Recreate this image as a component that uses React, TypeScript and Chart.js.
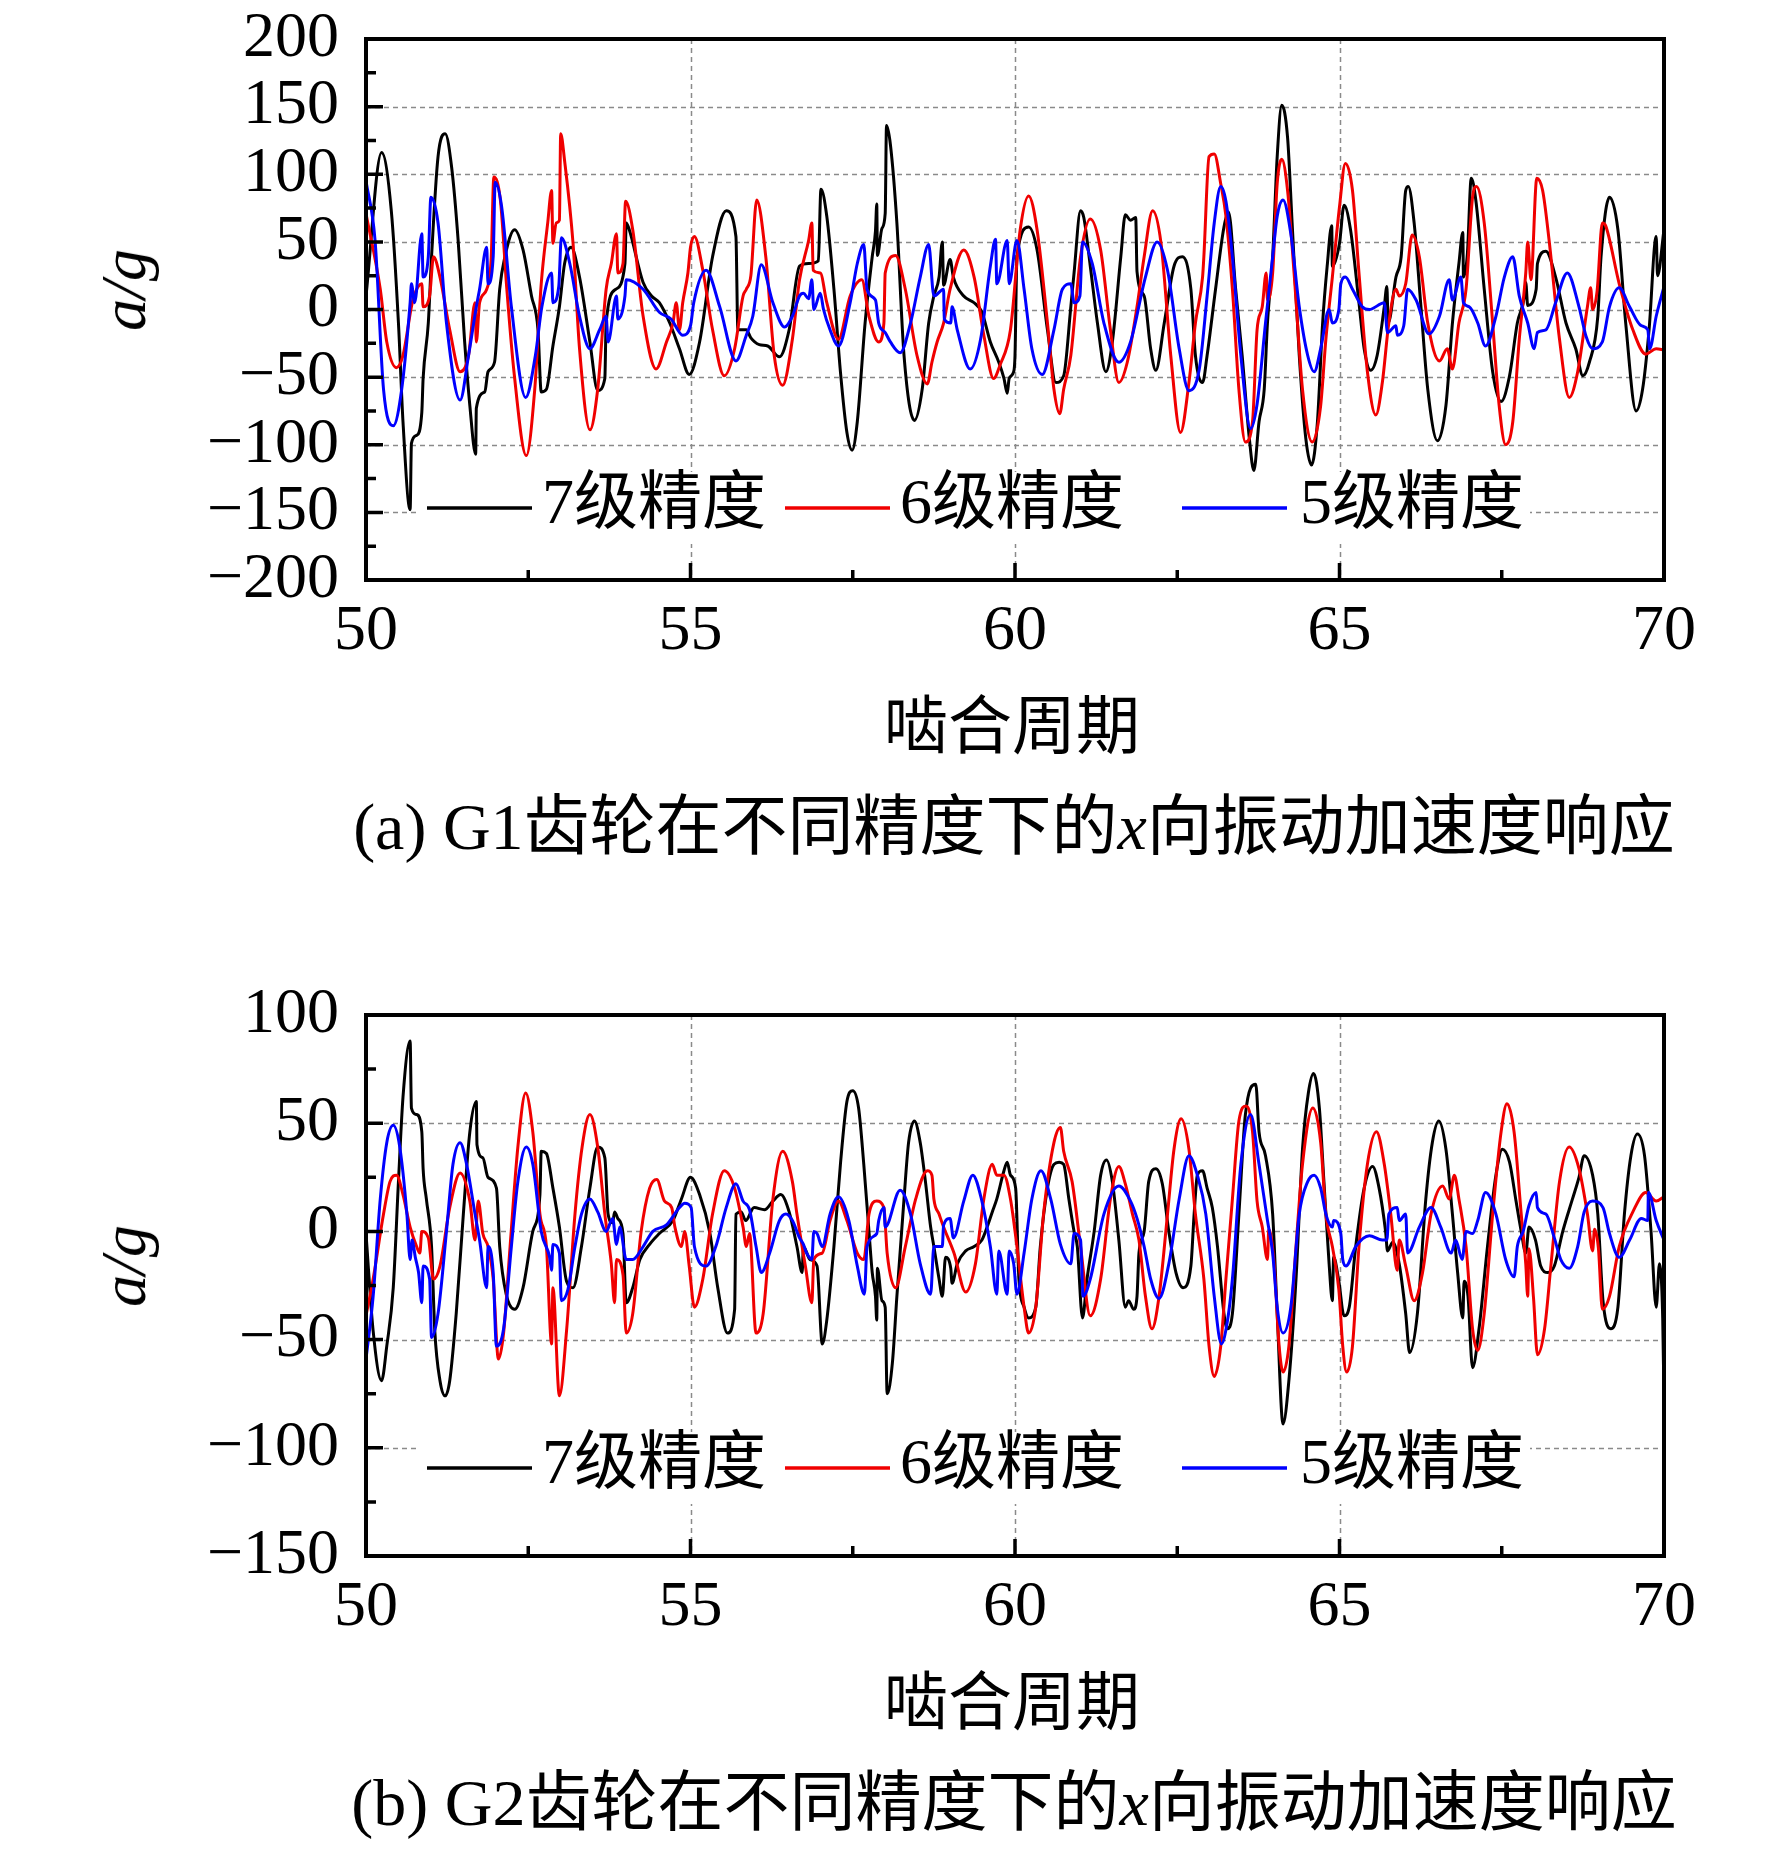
import React, { useEffect, useRef } from 'react';
import { Chart, registerables } from 'chart.js';

Chart.register(...registerables);

type Pt = [number, number];

// ---------------- data ----------------
const seriesNames = ['7级精度', '6级精度', '5级精度'];
const seriesColors = ['#000000', '#f00000', '#0000ff'];

const xTickValues = [50, 55, 60, 65, 70];
const yTickValuesG1 = [-200, -150, -100, -50, 0, 50, 100, 150, 200];
const yTickValuesG2 = [-150, -100, -50, 0, 50, 100];

const g1Black: Pt[] = [
  [50.0, 10], [50.24, 116], [50.39, 73], [50.5, -10], [50.57, -83], [50.68, -148], [50.7, -99], [50.78, -93],
  [50.86, -76], [50.88, -51], [50.96, -10], [51.01, 39], [51.11, 113], [51.22, 130], [51.32, 105], [51.42, 51],
  [51.52, -24], [51.6, -71], [51.69, -107], [51.7, -73], [51.83, -61], [51.88, -46], [51.98, -39], [52.06, 15],
  [52.14, 39], [52.29, 59], [52.42, 44], [52.55, 10], [52.65, -15], [52.7, -61], [52.78, -59], [52.88, -27],
  [52.98, 2], [53.06, 34], [53.16, 46], [53.29, 24], [53.45, -24], [53.57, -60], [53.68, -51], [53.7, -10],
  [53.85, 15], [53.99, 34], [54.01, 64], [54.05, 60], [54.27, 20], [54.4, 10], [54.52, 5], [54.68, -10],
  [54.83, -29], [54.98, -48], [55.14, -24], [55.34, 39], [55.55, 73], [55.7, 54], [55.73, -15], [55.86, -15],
  [55.93, -21], [56.06, -26], [56.19, -27], [56.37, -35], [56.52, -15], [56.68, 32], [56.82, 34], [56.97, 36],
  [57.01, 89], [57.1, 69], [57.21, 15], [57.31, -46], [57.41, -91], [57.49, -104], [57.57, -83], [57.69, -10],
  [57.8, 39], [57.85, 58], [57.87, 78], [57.88, 40], [57.95, 60], [58.0, 71], [58.02, 136], [58.08, 122],
  [58.18, 64], [58.29, -34], [58.45, -82], [58.57, -59], [58.67, -10], [58.75, 10], [58.83, 24], [58.88, 50],
  [58.9, 18], [59.0, 37], [59.05, 24], [59.21, 10], [59.37, 5], [59.49, -2], [59.62, -24], [59.75, -39],
  [59.83, -51], [59.88, -62], [59.91, -51], [59.98, -46], [60.0, -34], [60.03, 39], [60.21, 61], [60.34, 44],
  [60.5, -15], [60.63, -54], [60.75, -49], [60.86, 2], [60.91, 27], [61.01, 73], [61.06, 68], [61.16, 32],
  [61.27, -10], [61.4, -46], [61.5, -24], [61.63, 39], [61.7, 70], [61.78, 66], [61.86, 68], [61.88, 28],
  [61.99, 10], [62.09, -29], [62.17, -45], [62.3, -10], [62.45, 32], [62.58, 39], [62.71, 15], [62.78, -34],
  [62.89, -54], [62.96, -34], [63.09, 15], [63.22, 61], [63.29, 72], [63.4, 15], [63.5, -34], [63.61, -95],
  [63.68, -119], [63.76, -83], [63.84, -59], [63.89, -10], [63.97, 39], [64.04, 113], [64.11, 151], [64.2, 127],
  [64.27, 64], [64.38, -34], [64.48, -95], [64.57, -115], [64.66, -83], [64.74, -10], [64.81, 32], [64.88, 62],
  [64.89, 32], [65.0, 49], [65.07, 77], [65.17, 59], [65.3, 5], [65.38, -29], [65.48, -45], [65.58, -34],
  [65.69, 2], [65.73, 17], [65.75, -10], [65.87, 24], [65.95, 39], [66.02, 88], [66.06, 91], [66.15, 64],
  [66.25, 5], [66.36, -59], [66.51, -97], [66.64, -71], [66.74, -10], [66.84, 34], [66.9, 57], [66.91, 24],
  [66.97, 41], [67.03, 97], [67.1, 81], [67.23, 15], [67.36, -46], [67.49, -68], [67.62, -49], [67.74, -10],
  [67.85, 10], [67.87, 20], [67.9, 3], [68.03, 15], [68.05, 34], [68.18, 43], [68.33, 24], [68.49, -10],
  [68.64, -29], [68.75, -49], [68.85, -39], [68.98, -5], [69.03, 39], [69.16, 83], [69.29, 59], [69.41, -10],
  [69.57, -75], [69.67, -59], [69.77, -15], [69.88, 54], [69.9, 25], [70.0, 59],
];

const g1Red: Pt[] = [
  [50.0, 71], [50.22, 15], [50.32, -24], [50.47, -43], [50.57, -34], [50.7, 2], [50.74, 10], [50.86, 19],
  [50.88, 2], [50.98, 10], [51.04, 39], [51.14, 24], [51.29, -15], [51.45, -46], [51.58, -34], [51.68, 5],
  [51.7, -24], [51.75, 5], [51.86, 15], [51.93, 39], [51.97, 98], [52.07, 81], [52.17, 15], [52.28, -46],
  [52.47, -108], [52.6, -59], [52.7, 19], [52.8, 64], [52.86, 88], [52.88, 49], [52.93, 64], [52.98, 66],
  [53.0, 130], [53.06, 110], [53.19, 49], [53.29, -29], [53.45, -89], [53.57, -59], [53.7, 15], [53.78, 34],
  [53.86, 56], [53.88, 27], [53.96, 34], [54.0, 80], [54.11, 59], [54.27, -5], [54.47, -44], [54.63, -24],
  [54.73, -10], [54.78, 5], [54.83, -15], [54.88, 5], [54.96, 27], [55.0, 46], [55.06, 54], [55.19, 29],
  [55.34, -15], [55.52, -49], [55.68, -29], [55.81, 10], [55.86, 15], [55.93, 25], [56.02, 81], [56.16, 39],
  [56.29, -34], [56.42, -56], [56.57, -22], [56.68, 22], [56.82, 51], [56.87, 64], [56.89, 29], [57.0, 27],
  [57.1, 5], [57.28, -22], [57.46, 10], [57.64, 22], [57.75, -5], [57.9, -24], [57.98, -10], [58.0, 27],
  [58.16, 40], [58.31, 15], [58.49, -34], [58.65, -55], [58.72, -39], [58.8, -24], [58.9, -10], [59.0, 15],
  [59.21, 44], [59.37, 24], [59.52, -19], [59.67, -51], [59.77, -41], [59.93, -15], [60.08, 59], [60.21, 84],
  [60.34, 59], [60.5, -10], [60.6, -59], [60.69, -77], [60.75, -59], [60.86, -34], [61.01, 39], [61.16, 67],
  [61.32, 44], [61.47, -15], [61.6, -54], [61.73, -39], [61.88, 2], [61.99, 39], [62.12, 73], [62.25, 49],
  [62.4, -34], [62.55, -91], [62.68, -54], [62.78, -10], [62.89, 24], [62.91, 39], [62.99, 113], [63.07, 115],
  [63.17, 93], [63.25, 69], [63.35, 15], [63.45, -59], [63.55, -98], [63.66, -83], [63.73, -15], [63.81, 2],
  [63.87, 27], [63.89, 7], [63.97, 27], [64.04, 93], [64.11, 111], [64.2, 88], [64.3, 27], [64.43, -59],
  [64.58, -98], [64.71, -71], [64.79, -22], [64.89, 24], [65.0, 76], [65.09, 108], [65.2, 88], [65.3, 27],
  [65.43, -46], [65.56, -78], [65.66, -54], [65.76, -10], [65.87, 15], [65.92, 10], [66.02, 19], [66.12, 55],
  [66.23, 39], [66.36, -10], [66.54, -38], [66.66, -29], [66.74, -44], [66.84, -10], [66.95, 15], [67.05, 83],
  [67.11, 91], [67.23, 64], [67.36, -10], [67.46, -71], [67.56, -100], [67.67, -83], [67.77, -22], [67.87, 27],
  [67.9, 50], [67.95, 22], [68.04, 97], [68.13, 88], [68.23, 51], [68.39, -22], [68.54, -65], [68.67, -46],
  [68.82, 2], [68.87, 16], [68.9, 0], [68.97, 14], [69.05, 64], [69.1, 62], [69.31, 19], [69.52, -15],
  [69.72, -33], [69.88, -29], [70.0, -30],
];

const g1Blue: Pt[] = [
  [50.0, 95], [50.14, 51], [50.27, -59], [50.42, -86], [50.55, -59], [50.68, 5], [50.7, 19], [50.75, 5],
  [50.86, 56], [50.88, 24], [50.96, 39], [51.0, 83], [51.11, 64], [51.24, -10], [51.45, -67], [51.58, -34],
  [51.7, 2], [51.75, 15], [51.86, 46], [51.88, 19], [51.96, 39], [51.99, 94], [52.09, 76], [52.24, 2],
  [52.46, -65], [52.61, -34], [52.71, 2], [52.86, 27], [52.88, 5], [52.97, 17], [53.01, 53], [53.14, 34],
  [53.29, -5], [53.45, -29], [53.6, -15], [53.7, -5], [53.73, -24], [53.86, 10], [53.88, -7], [53.99, 10],
  [54.01, 22], [54.27, 15], [54.52, -2], [54.7, -7], [54.88, -19], [55.0, -12], [55.05, 5], [55.24, 29],
  [55.45, 2], [55.7, -38], [55.86, -19], [55.96, -5], [56.09, 33], [56.27, 5], [56.45, -13], [56.57, -5],
  [56.68, 10], [56.74, 12], [56.82, 8], [56.87, 22], [56.9, 0], [57.0, 12], [57.05, 0], [57.15, -15],
  [57.28, -27], [57.46, 5], [57.57, 34], [57.67, 48], [57.72, 15], [57.85, 7], [57.9, -10], [58.0, -17],
  [58.08, -24], [58.23, -32], [58.39, -10], [58.54, 24], [58.67, 48], [58.75, 10], [58.9, 15], [58.91, -7],
  [59.01, -10], [59.03, 2], [59.11, -15], [59.31, -44], [59.47, -22], [59.62, 32], [59.7, 52], [59.72, 19],
  [59.88, 51], [59.91, 19], [60.03, 51], [60.14, 15], [60.26, -29], [60.42, -48], [60.6, -15], [60.73, 15],
  [60.86, 19], [60.91, 5], [61.0, 10], [61.04, 50], [61.19, 34], [61.37, -10], [61.6, -39], [61.78, -24],
  [62.01, 24], [62.19, 50], [62.35, 29], [62.53, -29], [62.68, -60], [62.84, -44], [62.96, 10], [63.07, 64],
  [63.17, 91], [63.25, 80], [63.35, 39], [63.48, -34], [63.63, -88], [63.73, -70], [63.86, -10], [63.97, 39],
  [64.04, 69], [64.13, 81], [64.25, 56], [64.38, 2], [64.51, -34], [64.61, -46], [64.71, -29], [64.84, 0],
  [64.89, -10], [64.99, 0], [65.02, 19], [65.09, 24], [65.2, 15], [65.35, 2], [65.46, 0], [65.69, 5],
  [65.74, -17], [65.87, -12], [65.89, -19], [65.99, -12], [66.05, 15], [66.18, 7], [66.38, -18], [66.54, -5],
  [66.69, 22], [66.74, 7], [66.87, 24], [66.91, 5], [67.0, 2], [67.13, -10], [67.25, -27], [67.41, -5],
  [67.54, 24], [67.67, 39], [67.77, 10], [67.9, -10], [68.0, -29], [68.05, -17], [68.18, -15], [68.33, 5],
  [68.51, 27], [68.69, 2], [68.8, -20], [68.9, -29], [69.05, -24], [69.16, 2], [69.31, 16], [69.47, 2],
  [69.65, -12], [69.75, -15], [69.78, -29], [69.88, -5], [70.0, 17],
];

const g2Black: Pt[] = [
  [50.0, -1], [50.11, -46], [50.24, -69], [50.32, -53], [50.42, -26], [50.5, 23], [50.57, 62], [50.68, 88],
  [50.7, 57], [50.78, 54], [50.86, 46], [50.88, 29], [50.93, 15], [51.01, -7], [51.06, -46], [51.14, -69],
  [51.22, -76], [51.29, -69], [51.39, -38], [51.5, 8], [51.6, 46], [51.7, 60], [51.71, 40], [51.8, 34],
  [51.88, 25], [52.01, 20], [52.06, -7], [52.16, -29], [52.29, -36], [52.42, -26], [52.57, 0], [52.68, 17],
  [52.7, 37], [52.78, 36], [52.88, 20], [52.98, 2], [53.09, -23], [53.19, -26], [53.32, -7], [53.45, 20],
  [53.57, 39], [53.68, 34], [53.73, 8], [53.8, 4], [53.83, 9], [53.88, 6], [53.96, -1], [54.01, -33],
  [54.11, -26], [54.22, -13], [54.37, -6], [54.52, -1], [54.73, 5], [54.86, 15], [55.0, 25], [55.14, 17],
  [55.3, -1], [55.42, -26], [55.57, -47], [55.68, -36], [55.7, 8], [55.78, 9], [55.85, 5], [55.98, 11],
  [56.14, 10], [56.27, 14], [56.39, 17], [56.52, 9], [56.64, -7], [56.72, -19], [56.74, -7], [56.84, -13],
  [56.95, -16], [57.03, -52], [57.1, -41], [57.21, -7], [57.31, 31], [57.41, 60], [57.5, 65], [57.59, 57],
  [57.67, 31], [57.75, 0], [57.8, -19], [57.85, -30], [57.87, -41], [57.88, -17], [57.95, -32], [58.0, -35],
  [58.03, -75], [58.11, -61], [58.18, -30], [58.29, 15], [58.36, 41], [58.45, 51], [58.54, 41], [58.62, 23],
  [58.7, 2], [58.75, -7], [58.83, -22], [58.88, -30], [58.93, -12], [59.01, -17], [59.03, -24], [59.11, -15],
  [59.24, -9], [59.37, -7], [59.49, -4], [59.57, 2], [59.65, 9], [59.72, 15], [59.83, 28], [59.88, 32],
  [59.93, 26], [60.01, 20], [60.06, -22], [60.14, -35], [60.21, -40], [60.32, -35], [60.39, -7], [60.5, 20],
  [60.6, 31], [60.68, 32], [60.75, 31], [60.83, 15], [60.91, 0], [60.96, -7], [61.04, -40], [61.11, -22],
  [61.22, 0], [61.32, 26], [61.41, 33], [61.5, 23], [61.6, -4], [61.7, -35], [61.75, -32], [61.83, -36],
  [61.88, -30], [61.91, -10], [61.99, 0], [62.06, 23], [62.17, 29], [62.27, 22], [62.37, 0], [62.48, -19],
  [62.59, -26], [62.71, -16], [62.76, 8], [62.81, 26], [62.89, 28], [62.96, 20], [63.04, 11], [63.12, -7],
  [63.22, -38], [63.27, -45], [63.35, -38], [63.45, 8], [63.55, 54], [63.71, 68], [63.76, 46], [63.86, 35],
  [63.97, 8], [64.04, -38], [64.13, -89], [64.22, -69], [64.33, -22], [64.43, 38], [64.52, 64], [64.6, 73],
  [64.69, 57], [64.76, 23], [64.84, -15], [64.89, -32], [64.91, -12], [64.99, -23], [65.07, -39], [65.15, -35],
  [65.25, -7], [65.38, 20], [65.51, 30], [65.61, 20], [65.71, 0], [65.74, -9], [65.82, -5], [65.92, -15],
  [66.02, -38], [66.08, -56], [66.2, -38], [66.33, 15], [66.43, 41], [66.53, 51], [66.64, 38], [66.74, 8],
  [66.82, -19], [66.9, -40], [66.92, -23], [66.98, -30], [67.05, -63], [67.15, -45], [67.28, -7], [67.41, 26],
  [67.51, 38], [67.62, 32], [67.72, 14], [67.8, 0], [67.87, -10], [67.92, 2], [68.02, -4], [68.1, -16],
  [68.21, -19], [68.31, -16], [68.44, 0], [68.59, 15], [68.69, 25], [68.77, 35], [68.9, 26], [68.98, 8],
  [69.06, -32], [69.18, -45], [69.29, -35], [69.39, 8], [69.49, 35], [69.59, 45], [69.7, 35], [69.8, 0],
  [69.88, -35], [69.93, -15], [69.98, -40], [70.0, -78],
];

const g2Red: Pt[] = [
  [50.0, -39], [50.11, -22], [50.27, 8], [50.37, 23], [50.47, 26], [50.57, 17], [50.68, 2], [50.78, -7],
  [50.83, -10], [50.86, 0], [50.96, -3], [51.04, -22], [51.14, -16], [51.29, 11], [51.45, 27], [51.6, 14],
  [51.68, -4], [51.73, 14], [51.8, -1], [51.88, -7], [51.96, -22], [52.04, -59], [52.12, -47], [52.22, -7],
  [52.34, 39], [52.46, 64], [52.57, 46], [52.68, 8], [52.78, -7], [52.86, -52], [52.88, -26], [52.98, -76],
  [53.09, -46], [53.22, 8], [53.33, 39], [53.45, 54], [53.57, 39], [53.68, 8], [53.78, -15], [53.83, -33],
  [53.86, -13], [53.96, -20], [54.01, -47], [54.11, -38], [54.24, 0], [54.37, 20], [54.48, 24], [54.6, 14],
  [54.71, 11], [54.76, 2], [54.86, -7], [54.91, 0], [54.98, -16], [55.06, -35], [55.19, -22], [55.34, 8],
  [55.52, 28], [55.68, 20], [55.81, 2], [55.86, -7], [55.91, -1], [56.01, -47], [56.12, -38], [56.27, 15],
  [56.42, 37], [56.57, 23], [56.64, 8], [56.77, -16], [56.87, -33], [56.9, -13], [57.03, -10], [57.15, 5],
  [57.28, 14], [57.41, 5], [57.57, -10], [57.67, -13], [57.75, 8], [57.87, 14], [57.98, 11], [58.03, -10],
  [58.16, -26], [58.31, -7], [58.47, 15], [58.65, 28], [58.72, 26], [58.75, 15], [58.83, 8], [58.9, 2],
  [59.06, -10], [59.24, -28], [59.39, -15], [59.52, 15], [59.65, 31], [59.72, 26], [59.83, 26], [59.93, 15],
  [60.03, -7], [60.14, -35], [60.21, -47], [60.32, -35], [60.44, 8], [60.6, 41], [60.7, 48], [60.75, 37],
  [60.88, 23], [61.01, -7], [61.16, -39], [61.32, -22], [61.47, 15], [61.6, 30], [61.7, 22], [61.81, 8],
  [61.91, -4], [62.01, -30], [62.11, -45], [62.22, -30], [62.35, 8], [62.45, 38], [62.56, 52], [62.68, 38],
  [62.78, 8], [62.91, -22], [62.99, -53], [63.07, -67], [63.17, -53], [63.25, -22], [63.35, 15], [63.45, 51],
  [63.56, 58], [63.66, 46], [63.73, 14], [63.81, 2], [63.89, -13], [63.91, 1], [63.99, -14], [64.07, -53],
  [64.13, -65], [64.22, -53], [64.33, -7], [64.43, 31], [64.59, 57], [64.71, 41], [64.79, 8], [64.89, -7],
  [64.99, -27], [65.05, -53], [65.11, -65], [65.2, -53], [65.3, -7], [65.43, 31], [65.57, 46], [65.69, 31],
  [65.79, 8], [65.89, -18], [65.92, -4], [66.02, -16], [66.15, -32], [66.28, -19], [66.41, 8], [66.59, 21],
  [66.69, 15], [66.77, 26], [66.84, 15], [66.95, -7], [67.05, -45], [67.13, -55], [67.23, -38], [67.36, 8],
  [67.49, 46], [67.58, 59], [67.69, 46], [67.8, 8], [67.87, -15], [67.9, -30], [67.92, -8], [67.99, -31],
  [68.05, -57], [68.16, -45], [68.26, -15], [68.39, 23], [68.54, 39], [68.69, 29], [68.82, 8], [68.9, -9],
  [68.93, 1], [68.99, -8], [69.05, -36], [69.16, -30], [69.31, -7], [69.52, 9], [69.72, 18], [69.88, 14],
  [70.0, 16],
];

const g2Blue: Pt[] = [
  [50.0, -59], [50.11, -30], [50.22, 15], [50.32, 41], [50.42, 49], [50.52, 39], [50.63, 8], [50.68, -13],
  [50.71, -4], [50.76, -12], [50.81, -19], [50.86, -33], [50.88, -16], [50.98, -22], [51.01, -49], [51.11, -38],
  [51.24, 0], [51.34, 31], [51.45, 41], [51.55, 31], [51.68, 8], [51.75, -4], [51.86, -26], [51.88, -7],
  [51.96, -19], [52.01, -53], [52.12, -45], [52.24, -7], [52.34, 23], [52.47, 39], [52.57, 31], [52.7, 0],
  [52.83, -12], [52.86, -18], [52.88, -6], [52.98, -10], [53.01, -32], [53.11, -27], [53.22, -7], [53.32, 8],
  [53.45, 15], [53.57, 9], [53.7, 0], [53.8, 6], [53.86, -6], [53.91, 2], [54.01, -13], [54.11, -13],
  [54.27, -7], [54.42, 0], [54.63, 3], [54.83, 11], [54.91, 13], [55.01, 11], [55.06, -7], [55.24, -16],
  [55.39, -7], [55.55, 11], [55.7, 22], [55.81, 14], [55.91, 10], [56.01, -7], [56.09, -19], [56.22, -10],
  [56.37, 5], [56.47, 8], [56.57, 5], [56.68, -3], [56.74, -6], [56.79, -10], [56.87, -13], [56.9, 0],
  [56.95, -1], [57.03, -7], [57.15, 8], [57.28, 16], [57.44, 5], [57.57, -16], [57.68, -29], [57.72, -7],
  [57.87, -1], [57.9, 5], [57.98, 11], [58.0, 2], [58.23, 19], [58.39, 8], [58.54, -15], [58.7, -29],
  [58.75, -7], [58.88, -7], [58.9, 3], [59.0, 6], [59.05, -3], [59.21, 14], [59.35, 26], [59.49, 14],
  [59.62, -7], [59.72, -29], [59.75, -9], [59.88, -29], [59.91, -9], [59.98, -15], [60.03, -29], [60.14, -10],
  [60.26, 15], [60.4, 28], [60.55, 15], [60.7, -6], [60.86, -15], [60.91, -1], [61.01, -4], [61.05, -30],
  [61.16, -22], [61.37, 8], [61.6, 21], [61.78, 14], [61.88, 6], [61.99, -7], [62.09, -22], [62.22, -31],
  [62.37, -15], [62.53, 15], [62.68, 35], [62.81, 26], [62.94, 8], [63.07, -30], [63.18, -52], [63.27, -42],
  [63.35, -22], [63.48, 31], [63.63, 54], [63.76, 31], [63.89, 5], [63.97, -10], [64.04, -35], [64.13, -47],
  [64.25, -35], [64.38, 8], [64.51, 23], [64.61, 26], [64.71, 20], [64.79, 8], [64.89, 2], [64.91, 5],
  [65.02, -1], [65.05, -13], [65.1, -16], [65.25, -7], [65.46, -2], [65.66, -4], [65.73, -4], [65.76, 8],
  [65.89, 11], [65.92, 5], [66.02, 8], [66.05, -10], [66.23, 2], [66.41, 11], [66.56, 2], [66.72, -10],
  [66.79, -4], [66.89, -13], [66.95, 0], [67.05, -1], [67.13, 5], [67.25, 18], [67.41, 8], [67.56, -13],
  [67.69, -21], [67.74, -7], [67.83, 0], [67.92, 12], [68.03, 18], [68.05, 11], [68.18, 8], [68.31, -3],
  [68.41, -13], [68.54, -17], [68.67, -7], [68.77, 9], [68.9, 14], [69.06, 11], [69.16, -1], [69.31, -12],
  [69.47, -4], [69.65, 6], [69.75, 5], [69.76, 18], [69.88, 5], [70.0, -4],
];

// ---------------- drawing ----------------
const SERIF = "'Liberation Serif', 'Times New Roman', serif";
const MIXED = "'Liberation Serif', 'Noto Sans CJK SC', serif";
const CANVAS_W = 1772;
const CANVAS_H = 780;

const fmt = (v: number) => (v < 0 ? '\u2212' + Math.abs(v) : String(v));

const framePlugin = {
  id: 'frameDeco',
  beforeDatasetsDraw(chart: any, _args: any, opts: any) {
    const { ctx, chartArea: a, scales } = chart;
    const xs = scales.x;
    const ys = scales.y;
    ctx.save();
    ctx.strokeStyle = '#8a8a8a';
    ctx.lineWidth = 1.5;
    ctx.setLineDash([5, 4]);
    ctx.beginPath();
    for (const v of opts.yTicks) {
      const p = Math.round(ys.getPixelForValue(v)) + 0.5;
      if (p <= a.top + 2 || p >= a.bottom - 2) continue;
      ctx.moveTo(a.left, p);
      ctx.lineTo(a.right, p);
    }
    for (const v of opts.xTicks) {
      const p = Math.round(xs.getPixelForValue(v)) + 0.5;
      if (p <= a.left + 2 || p >= a.right - 2) continue;
      ctx.moveTo(p, a.top);
      ctx.lineTo(p, a.bottom);
    }
    ctx.stroke();
    ctx.restore();
  },
  afterDatasetsDraw(chart: any, _args: any, opts: any) {
    const { ctx, chartArea: a, scales } = chart;
    const xs = scales.x;
    const ys = scales.y;
    ctx.save();
    // legend
    const ly = opts.legendY;
    ctx.fillStyle = '#ffffff';
    ctx.fillRect(420, ly - 36, 1530 - 420, 72);
    const lineStart = [427, 785, 1182];
    const lineEnd = [532, 890, 1287];
    const textX = [542, 900, 1300];
    ctx.font = `64px ${MIXED}`;
    ctx.textBaseline = 'middle';
    ctx.textAlign = 'left';
    for (let i = 0; i < seriesNames.length; i++) {
      ctx.strokeStyle = seriesColors[i];
      ctx.lineWidth = 3.5;
      ctx.beginPath();
      ctx.moveTo(lineStart[i], ly);
      ctx.lineTo(lineEnd[i], ly);
      ctx.stroke();
      ctx.fillStyle = '#000';
      ctx.fillText(seriesNames[i], textX[i], ly - 2);
    }
    // ticks
    ctx.strokeStyle = '#000';
    ctx.lineWidth = 3.5;
    ctx.beginPath();
    const yt: number[] = opts.yTicks;
    for (let i = 0; i < yt.length; i++) {
      const p = ys.getPixelForValue(yt[i]);
      ctx.moveTo(a.left, p);
      ctx.lineTo(a.left + 17, p);
      if (i < yt.length - 1) {
        const m = ys.getPixelForValue((yt[i] + yt[i + 1]) / 2);
        ctx.moveTo(a.left, m);
        ctx.lineTo(a.left + 10, m);
      }
    }
    const xt: number[] = opts.xTicks;
    for (let i = 0; i < xt.length; i++) {
      const p = xs.getPixelForValue(xt[i]);
      ctx.moveTo(p, a.bottom);
      ctx.lineTo(p, a.bottom - 17);
      if (i < xt.length - 1) {
        const m = xs.getPixelForValue((xt[i] + xt[i + 1]) / 2);
        ctx.moveTo(m, a.bottom);
        ctx.lineTo(m, a.bottom - 10);
      }
    }
    ctx.stroke();
    // frame
    ctx.lineWidth = 4;
    ctx.strokeRect(a.left, a.top, a.right - a.left, a.bottom - a.top);
    ctx.restore();
  },
};

interface PanelProps {
  top: number;
  series: Pt[][];
  yTicks: number[];
  legendY: number;
}

function Panel({ top, series, yTicks, legendY }: PanelProps) {
  const ref = useRef<HTMLCanvasElement>(null);
  useEffect(() => {
    const canvas = ref.current;
    if (!canvas) return;
    const chart = new Chart(canvas, {
      type: 'line',
      data: {
        datasets: series.map((s, i) => ({
          label: seriesNames[i],
          data: s.map(([x, y]) => ({ x, y })),
          borderColor: seriesColors[i],
          backgroundColor: seriesColors[i],
          borderWidth: 3,
          pointRadius: 0,
          fill: false,
          cubicInterpolationMode: 'monotone' as const,
          order: 3 - i,
        })),
      },
      options: {
        animation: false,
        responsive: false,
        maintainAspectRatio: false,
        devicePixelRatio: 1,
        events: [],
        layout: { padding: { left: 0, top: 39, right: 108, bottom: 0 } },
        plugins: {
          legend: { display: false },
          tooltip: { enabled: false },
          // @ts-ignore
          frameDeco: { yTicks, xTicks: xTickValues, legendY },
        },
        scales: {
          x: {
            type: 'linear',
            min: 50,
            max: 70,
            grid: { display: false, drawTicks: false },
            border: { display: false },
            afterBuildTicks: (s: any) => {
              s.ticks = xTickValues.map((v) => ({ value: v }));
            },
            afterFit: (s: any) => {
              s.height = CANVAS_H - 580;
              s.paddingLeft = 0;
              s.paddingRight = 0;
              s.paddingTop = 0;
              s.paddingBottom = 0;
            },
            ticks: {
              color: '#000',
              font: { family: SERIF, size: 64 },
              padding: 14,
              maxRotation: 0,
              autoSkip: false,
              callback: (v: any) => fmt(Number(v)),
            },
          },
          y: {
            type: 'linear',
            min: yTicks[0],
            max: yTicks[yTicks.length - 1],
            grid: { display: false, drawTicks: false },
            border: { display: false },
            afterBuildTicks: (s: any) => {
              s.ticks = yTicks.map((v) => ({ value: v }));
            },
            afterFit: (s: any) => {
              s.width = 366;
              s.paddingTop = 0;
              s.paddingBottom = 0;
              s.paddingLeft = 0;
              s.paddingRight = 0;
            },
            ticks: {
              color: '#000',
              font: { family: SERIF, size: 64 },
              padding: 27,
              autoSkip: false,
              callback: (v: any) => fmt(Number(v)),
            },
          },
        },
      },
      plugins: [framePlugin],
    } as any);
    return () => chart.destroy();
  }, []);
  return (
    <canvas
      ref={ref}
      width={CANVAS_W}
      height={CANVAS_H}
      style={{ position: 'absolute', left: 0, top, width: CANVAS_W, height: CANVAS_H }}
    />
  );
}

const centered = (cx: number, cy: number, size: number): React.CSSProperties => ({
  position: 'absolute',
  left: cx,
  top: cy,
  transform: 'translate(-50%, -50%)',
  fontFamily: MIXED,
  fontSize: size,
  lineHeight: 1,
  whiteSpace: 'nowrap',
  color: '#000',
});

export default function App() {
  const panels = [
    { top: 0, series: [g1Black, g1Red, g1Blue], yTicks: yTickValuesG1, legendY: 508, tag: '(a) G1' },
    { top: 976, series: [g2Black, g2Red, g2Blue], yTicks: yTickValuesG2, legendY: 492, tag: '(b) G2' },
  ];
  return (
    <div style={{ position: 'absolute', left: 0, top: 0, width: 1772, height: 1863, background: '#fff', overflow: 'hidden' }}>
      {panels.map((p, i) => (
        <React.Fragment key={i}>
          <Panel top={p.top} series={p.series} yTicks={p.yTicks} legendY={p.legendY} />
          <div
            style={{
              ...centered(124, p.top + 290, 64),
              transform: 'translate(-50%, -50%) rotate(-90deg)',
              fontFamily: SERIF,
              fontStyle: 'italic',
            }}
          >
            a/g
          </div>
          <div style={centered(1012, p.top + 727, 64)}>啮合周期</div>
          <div style={centered(1014, p.top + 827, 66)}>
            {p.tag}齿轮在不同精度下的<span style={{ fontStyle: 'italic', fontFamily: SERIF }}>x</span>向振动加速度响应
          </div>
        </React.Fragment>
      ))}
    </div>
  );
}
